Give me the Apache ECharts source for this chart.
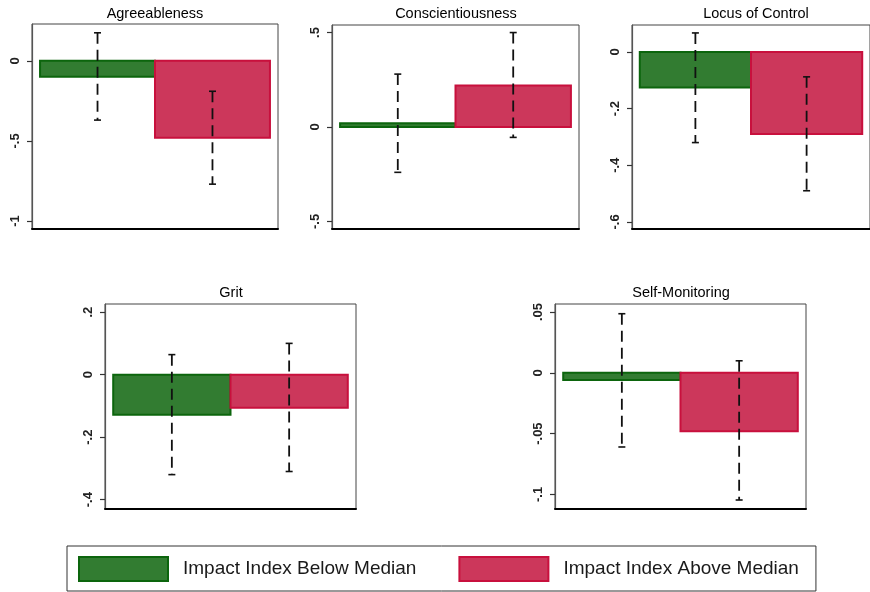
<!DOCTYPE html>
<html>
<head>
<meta charset="utf-8">
<script src="https://cdn.jsdelivr.net/npm/echarts@6/dist/echarts.min.js"></script>
<style>html,body{margin:0;padding:0;background:#fff;}#c{width:870px;height:592px;}</style>
</head>
<body>
<div id="c"></div>
<script>
// ---- data ----
const panelTitles = ['Agreeableness', 'Conscientiousness', 'Locus of Control', 'Grit', 'Self-Monitoring'];
const groupNames = ['Impact Index Below Median', 'Impact Index Above Median'];
const belowMedian = [-0.10, 0.02, -0.126, -0.128, -0.006];
const aboveMedian = [-0.48, 0.22, -0.29, -0.106, -0.048];
const belowLow  = [-0.37, -0.24, -0.32, -0.32, -0.061];
const belowHigh = [0.175, 0.28, 0.067, 0.064, 0.0486];
const aboveLow  = [-0.77, -0.055, -0.49, -0.31, -0.1046];
const aboveHigh = [-0.19, 0.50, -0.088, 0.10, 0.0099];
const tickValues = [[0, -0.5, -1], [0.5, 0, -0.5], [0, -0.2, -0.4, -0.6], [0.2, 0, -0.2, -0.4], [0.05, 0, -0.05, -0.1]];
const tickLabels = [['0', '-.5', '-1'], ['.5', '0', '-.5'], ['0', '-.2', '-.4', '-.6'], ['.2', '0', '-.2', '-.4'], ['.05', '0', '-.05', '-.1']];
const yMin = [-1.05, -0.54, -0.625, -0.43, -0.112];
const yMax = [0.23, 0.54, 0.095, 0.226, 0.0566];

// ---- layout / style ----
const gridBoxes = [
  {left: 32, top: 24, width: 246, height: 205},
  {left: 332, top: 25, width: 247, height: 204},
  {left: 632, top: 25, width: 247, height: 204},
  {left: 105, top: 304, width: 251, height: 205},
  {left: 555, top: 304, width: 251, height: 205}
];
const titlePos = [[155, 6], [456, 6], [756, 6], [231, 285], [681, 285]];
const fills = ['#327c31', '#cc375b'];
const strokes = ['#0c650d', '#c8103d'];
const FONT = '"Liberation Sans", Arial, sans-serif';

function barRenderer(gi) {
  return function (params, api) {
    const x = api.value(0), v = api.value(1);
    const p0 = api.coord([x, 0]);
    const p1 = api.coord([x + 1, v]);
    return {
      type: 'rect',
      shape: {x: p0[0], y: Math.min(p0[1], p1[1]), width: p1[0] - p0[0], height: Math.max(Math.abs(p1[1] - p0[1]), 1)},
      style: {fill: fills[gi], stroke: strokes[gi], lineWidth: 2}
    };
  };
}
function errRenderer(params, api) {
  const x = api.value(0) + 0.5;
  const pl = api.coord([x, api.value(1)]);
  const ph = api.coord([x, api.value(2)]);
  const c = '#111';
  return {
    type: 'group',
    children: [
      {type: 'line', shape: {x1: ph[0], y1: ph[1], x2: pl[0], y2: pl[1]}, style: {stroke: c, lineWidth: 1.8, lineDash: [11, 6]}},
      {type: 'line', shape: {x1: ph[0] - 3.5, y1: ph[1], x2: ph[0] + 3.5, y2: ph[1]}, style: {stroke: c, lineWidth: 1.6}},
      {type: 'line', shape: {x1: pl[0] - 3.5, y1: pl[1], x2: pl[0] + 3.5, y2: pl[1]}, style: {stroke: c, lineWidth: 1.6}}
    ]
  };
}

const grid = [], xAxis = [], yAxis = [], series = [], title = [];
panelTitles.forEach(function (t, i) {
  grid.push(Object.assign({show: true, borderColor: '#444', borderWidth: 1, backgroundColor: '#fff'}, gridBoxes[i]));
  title.push({text: t, left: titlePos[i][0], top: titlePos[i][1], textAlign: 'center', padding: 0,
    textStyle: {fontFamily: FONT, fontSize: 14.5, fontWeight: 'normal', color: '#000'}});
  xAxis.push({type: 'value', gridIndex: i, min: -0.07, max: 2.07, splitLine: {show: false},
    axisLine: {show: true, onZero: false, lineStyle: {color: '#000', width: 2}},
    axisTick: {show: false}, axisLabel: {show: false}});
  const tv = tickValues[i], tl = tickLabels[i];
  yAxis.push({type: 'value', gridIndex: i, min: yMin[i], max: yMax[i], splitLine: {show: false},
    axisLine: {show: true, onZero: false, lineStyle: {color: '#555', width: 1.2}},
    axisTick: {show: true, length: 5, customValues: tv, lineStyle: {color: '#333', width: 1.2}},
    axisLabel: {customValues: tv, rotate: 90, margin: 10, fontFamily: FONT, fontSize: 13, fontWeight: 'bold', color: '#222',
      formatter: function (v) {
        for (let k = 0; k < tv.length; k++) if (Math.abs(tv[k] - v) < 1e-9) return tl[k];
        return '';
      }}});
  series.push({type: 'custom', name: groupNames[0], xAxisIndex: i, yAxisIndex: i, renderItem: barRenderer(0),
    itemStyle: {color: fills[0], borderColor: strokes[0]}, data: [[0, belowMedian[i]]], z: 2});
  series.push({type: 'custom', name: groupNames[1], xAxisIndex: i, yAxisIndex: i, renderItem: barRenderer(1),
    itemStyle: {color: fills[1], borderColor: strokes[1]}, data: [[1, aboveMedian[i]]], z: 2});
  series.push({type: 'custom', name: 'ci', xAxisIndex: i, yAxisIndex: i, renderItem: errRenderer, z: 3,
    data: [[0, belowLow[i], belowHigh[i]], [1, aboveLow[i], aboveHigh[i]]]});
});

const chart = echarts.init(document.getElementById('c'), null, {renderer: 'canvas'});
chart.setOption({
  animation: false,
  backgroundColor: '#fff',
  title: title,
  grid: grid,
  xAxis: xAxis,
  yAxis: yAxis,
  series: series,
  legend: {
    left: 67, top: 546, orient: 'horizontal',
    padding: [10, 17, 9, 11],
    borderColor: '#333', borderWidth: 1,
    itemWidth: 89, itemHeight: 24, itemGap: 42,
    icon: 'rect', selectedMode: false,
    textStyle: {fontFamily: FONT, fontSize: 19, color: '#1a1a1a', padding: [0, 0, 0, 10]},
    data: groupNames.map(function (n, k) {
      return {name: n, itemStyle: {color: fills[k], borderColor: strokes[k], borderWidth: 2}};
    })
  }
});
</script>
</body>
</html>
